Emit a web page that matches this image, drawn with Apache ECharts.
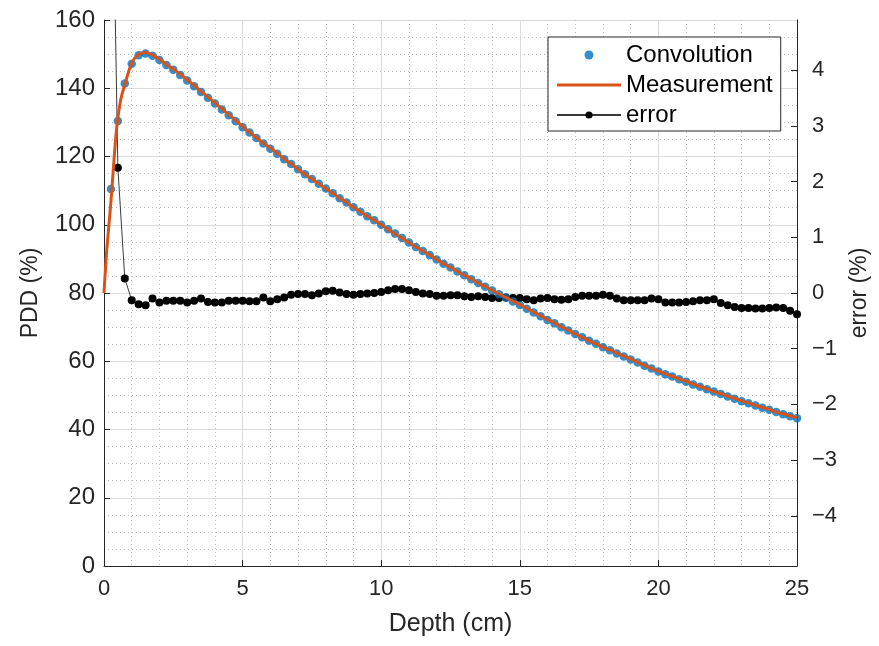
<!DOCTYPE html>
<html>
<head>
<meta charset="utf-8">
<script src="https://cdn.jsdelivr.net/npm/echarts@6/dist/echarts.min.js"></script>
<style>
html,body{margin:0;padding:0;background:#fff;}
#chart{width:879px;height:646px;}
</style>
</head>
<body>
<div id="chart"></div>
<script>
// Depth (cm) of the convolution and error samples
const depths = [0.25,0.5,0.75,1,1.25,1.5,1.75,2,2.25,2.5,2.75,3,3.25,3.5,3.75,4,4.25,4.5,4.75,5,
  5.25,5.5,5.75,6,6.25,6.5,6.75,7,7.25,7.5,7.75,8,8.25,8.5,8.75,9,9.25,9.5,9.75,10,
  10.25,10.5,10.75,11,11.25,11.5,11.75,12,12.25,12.5,12.75,13,13.25,13.5,13.75,14,14.25,14.5,14.75,15,
  15.25,15.5,15.75,16,16.25,16.5,16.75,17,17.25,17.5,17.75,18,18.25,18.5,18.75,19,19.25,19.5,19.75,20,
  20.25,20.5,20.75,21,21.25,21.5,21.75,22,22.25,22.5,22.75,23,23.25,23.5,23.75,24,24.25,24.5,24.75,25];

// Convolution PDD (%)
const convolution = [110.5,130.4,141.4,147.2,149.7,150.2,149.5,148.3,146.8,145.4,143.9,142.3,140.6,138.9,137.2,135.5,133.8,132.1,130.3,128.6,
  127.0,125.4,123.8,122.3,120.8,119.2,117.8,116.3,114.8,113.4,112.0,110.6,109.2,107.8,106.5,105.1,103.8,102.5,101.3,100.0,
  98.7,97.4,96.1,94.8,93.5,92.3,91.1,89.8,88.6,87.5,86.3,85.2,84.0,82.9,81.8,80.7,79.6,78.6,77.5,76.5,
  75.4,74.3,73.2,72.1,71.1,70.0,69.0,68.0,67.0,66.0,65.1,64.1,63.2,62.3,61.4,60.5,59.6,58.7,57.9,57.0,
  56.2,55.5,54.7,54.0,53.2,52.5,51.8,51.1,50.4,49.7,49.0,48.3,47.7,47.0,46.4,45.8,45.1,44.5,43.9,43.3];

// Measurement PDD (%)
const measDepths = [0,0.1,0.25,0.37,0.46,0.6,0.75,1,1.25,1.5,1.75,2,2.25,2.5,2.75,3,3.25,3.5,3.75,4,4.25,4.5,4.75,5,
  5.25,5.5,5.75,6,6.25,6.5,6.75,7,7.25,7.5,7.75,8,8.25,8.5,8.75,9,9.25,9.5,9.75,10,
  10.25,10.5,10.75,11,11.25,11.5,11.75,12,12.25,12.5,12.75,13,13.25,13.5,13.75,14,14.25,14.5,14.75,15,
  15.25,15.5,15.75,16,16.25,16.5,16.75,17,17.25,17.5,17.75,18,18.25,18.5,18.75,19,19.25,19.5,19.75,20,
  20.25,20.5,20.75,21,21.25,21.5,21.75,22,22.25,22.5,22.75,23,23.25,23.5,23.75,24,24.25,24.5,24.75,25];
const measurement = [80.0,92.6,106.8,120.0,128.5,136.5,141.0,147.4,150.0,150.5,149.7,148.5,147.0,145.6,144.1,142.5,140.8,139.1,137.4,135.7,134.0,132.3,130.5,128.8,
  127.1,125.5,123.9,122.5,120.9,119.3,117.8,116.3,114.8,113.4,112.0,110.6,109.2,107.8,106.5,105.1,103.8,102.5,101.3,100.0,
  98.6,97.3,96.0,94.8,93.5,92.3,91.1,89.8,88.6,87.5,86.3,85.2,84.1,82.9,81.9,80.8,79.7,78.7,77.6,76.6,
  75.5,74.4,73.3,72.2,71.2,70.1,69.1,68.0,67.0,66.0,65.1,64.1,63.3,62.4,61.5,60.6,59.7,58.8,57.9,57.1,
  56.3,55.6,54.8,54.1,53.3,52.6,51.9,51.1,50.5,49.8,49.1,48.4,47.8,47.1,46.5,45.9,45.1,44.6,44.0,43.5];

// Error (%)
const errorPct = [9.5,2.25,0.26,-0.13,-0.20,-0.22,-0.10,-0.17,-0.14,-0.14,-0.14,-0.17,-0.14,-0.10,-0.16,-0.17,-0.17,-0.14,-0.14,-0.14,
  -0.15,-0.15,-0.08,-0.15,-0.11,-0.08,-0.03,-0.02,-0.02,-0.04,-0.01,0.03,0.04,0.01,-0.02,-0.03,-0.02,-0.01,0.00,0.02,
  0.05,0.07,0.07,0.05,0.02,-0.01,-0.02,-0.05,-0.05,-0.04,-0.04,-0.06,-0.07,-0.06,-0.07,-0.09,-0.09,-0.08,-0.09,-0.09,
  -0.11,-0.13,-0.10,-0.09,-0.11,-0.12,-0.11,-0.07,-0.05,-0.05,-0.05,-0.03,-0.05,-0.10,-0.13,-0.13,-0.13,-0.13,-0.10,-0.11,
  -0.17,-0.17,-0.17,-0.16,-0.15,-0.13,-0.13,-0.11,-0.18,-0.22,-0.25,-0.27,-0.27,-0.28,-0.28,-0.27,-0.26,-0.27,-0.32,-0.38];

// Tick labels
const depthTicks = [0,5,10,15,20,25];
const pddTicks = [0,20,40,60,80,100,120,140,160];
const errTicks = [-4,-3,-2,-1,0,1,2,3,4];

const FONT = 'Liberation Sans';
const AX = '#262626';
const zip = (xs, ys) => xs.map((x, i) => [x, ys[i]]);

const chart = echarts.init(document.getElementById('chart'), null, {renderer: 'canvas'});
chart.setOption({
  animation: false,
  backgroundColor: '#fff',
  textStyle: {fontFamily: FONT},
  grid: {left: 104, right: 79, top: 20, bottom: 80, containLabel: false},
  legend: {
    left: 548, top: 37, orient: 'vertical',
    backgroundColor: '#fff', borderColor: AX, borderWidth: 1, borderRadius: 0,
    padding: [6, 8, 4, 8],
    itemWidth: 64, itemHeight: 9, itemGap: 6,
    textStyle: {fontFamily: FONT, fontSize: 24, lineHeight: 24, color: '#000'},
    data: [
      {name: 'Convolution', icon: 'circle'},
      {name: 'Measurement', icon: 'path://M0,0L64,0L64,3L0,3Z'},
      {name: 'error'}
    ]
  },
  xAxis: {
    type: 'value', min: depthTicks[0], max: depthTicks[depthTicks.length - 1], interval: 5,
    name: 'Depth (cm)', nameLocation: 'middle', nameGap: 46,
    nameTextStyle: {fontFamily: FONT, fontSize: 25, color: AX},
    axisLine: {show: true, lineStyle: {color: AX, width: 1}},
    axisTick: {show: true, inside: true, length: 6, lineStyle: {color: AX}},
    axisLabel: {fontFamily: FONT, fontSize: 22, color: AX, margin: 12},
    splitLine: {show: true, lineStyle: {color: '#dcdcdc', width: 1}},
    minorTick: {show: false, splitNumber: 5},
    minorSplitLine: {show: true, lineStyle: {color: '#bdbdbd', width: 1, type: [1, 3]}}
  },
  yAxis: [
    {
      type: 'value', min: pddTicks[0], max: pddTicks[pddTicks.length - 1], interval: 20, position: 'left',
      name: 'PDD (%)', nameLocation: 'middle', nameGap: 62, nameRotate: 90,
      nameTextStyle: {fontFamily: FONT, fontSize: 23, color: AX},
      axisLine: {show: true, lineStyle: {color: AX, width: 1}},
      axisTick: {show: true, inside: true, length: 6, lineStyle: {color: AX}},
      axisLabel: {fontFamily: FONT, fontSize: 24, color: AX, margin: 9},
      splitLine: {show: true, lineStyle: {color: '#dcdcdc', width: 1}},
      minorTick: {show: false, splitNumber: 4},
      minorSplitLine: {show: true, lineStyle: {color: '#bdbdbd', width: 1, type: [1, 3]}}
    },
    {
      type: 'value', min: -4.9, max: 4.9, position: 'right',
      name: 'error (%)', nameLocation: 'middle', nameGap: 45, nameRotate: 90,
      nameTextStyle: {fontFamily: FONT, fontSize: 23, color: AX},
      axisLine: {show: true, onZero: false, lineStyle: {color: AX, width: 1}},
      axisTick: {show: true, inside: true, length: 6, lineStyle: {color: AX}, customValues: errTicks},
      axisLabel: {fontFamily: FONT, fontSize: 22, color: AX, margin: 15, customValues: errTicks,
        formatter: v => (v < 0 ? '\u2212' + Math.abs(v) : String(v))},
      splitLine: {show: false}
    }
  ],
  series: [
    {
      name: 'error', type: 'line', yAxisIndex: 1, z: 2,
      data: zip(depths, errorPct),
      symbol: 'circle', symbolSize: 8, showSymbol: true,
      itemStyle: {color: '#000'},
      lineStyle: {color: '#3a3a3a', width: 1}
    },
    {
      name: 'Convolution', type: 'scatter', yAxisIndex: 0, z: 3,
      data: zip(depths, convolution),
      symbol: 'circle', symbolSize: 8.5,
      itemStyle: {color: '#0072BD'}
    },
    {
      name: 'Measurement', type: 'line', yAxisIndex: 0, z: 4,
      data: zip(measDepths, measurement),
      symbol: 'none', smooth: 0.3,
      itemStyle: {color: '#D95319'},
      lineStyle: {color: '#D95319', width: 3}
    }
  ]
});
</script>
</body>
</html>
